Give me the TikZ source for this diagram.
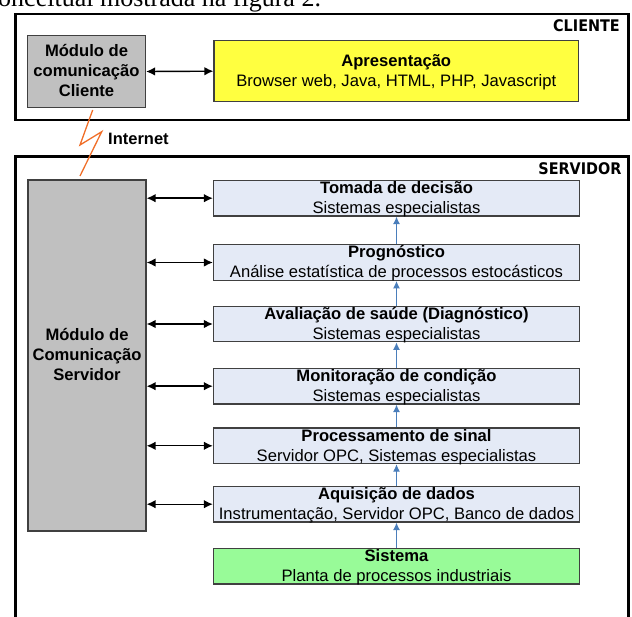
\documentclass[tikz,border=0pt]{standalone}
\usepackage{fontspec}
\usepackage{graphicx}
\setmainfont{Liberation Sans}
\newfontfamily\serifpage{Liberation Serif}
\newfontfamily\labfont{DejaVu Sans}
\usetikzlibrary{arrows.meta}
\definecolor{modgray}{RGB}{192,192,192}
\definecolor{layerblue}{RGB}{228,234,246}
\definecolor{apyellow}{RGB}{255,255,64}
\definecolor{sisgreen}{RGB}{152,251,152}
\definecolor{flowblue}{RGB}{74,126,187}
\definecolor{netorange}{RGB}{240,110,40}
\definecolor{edgegray}{RGB}{64,64,64}
\begin{document}
\begin{tikzpicture}[x=1pt,y=-1pt,
  outerbox/.style={draw=black,line width=2.5pt},
  box/.style={draw=edgegray,line width=1.2pt,inner sep=0pt,rectangle},
  module/.style={box,fill=modgray,minimum width=118pt},
  layer/.style={box,fill=layerblue,minimum width=366pt,minimum height=35.5pt},
  txt/.style={anchor=base,inner sep=0pt,font=\fontsize{16.6}{20}\selectfont},
  ttl/.style={anchor=base,inner sep=0pt,font=\fontsize{16.6}{20}\selectfont\bfseries},
  biarrow/.style={{Latex[length=9pt,width=8.5pt]}-{Latex[length=9pt,width=8.5pt]},line width=1.4pt,black},
  uparrow/.style={-{Latex[length=7.5pt,width=7pt]},line width=1.3pt,flowblue},
  sidelabel/.style={anchor=base east,inner sep=0pt,font=\labfont\bfseries\fontsize{16}{19}\selectfont}
]
\useasboundingbox (0,0) rectangle (632,617);
\clip (0,0) rectangle (632,617);

% cut-off page text
\node[anchor=base west,inner sep=0pt,font=\serifpage\fontsize{26}{30}\selectfont] (pagetext) at (-13.5,6.5) {conceitual mostrada na figura 2.};

% outer frames
\draw[outerbox] (15.5,13.8) rectangle (628.7,120);
\draw[outerbox] (15.5,156.5) rectangle (628.7,650);
\node[sidelabel] (clabel) at (620,31.7) {\scalebox{0.9}[1]{CLIENTE}};
\node[sidelabel] (slabel) at (621.7,175) {\scalebox{0.9}[1]{SERVIDOR}};

% client side
\node[module,minimum height=71.6pt] (modc) at (86.5,71.5) {};
\node[ttl] (modc1) at (86.5,56.7) {Módulo de};
\node[ttl] (modc2) at (86.5,77) {comunicação};
\node[ttl] (modc3) at (86.5,96.7) {Cliente};

\node[box,fill=apyellow,minimum width=364.5pt,minimum height=61pt] (apres) at (396.25,71.2) {};
\node[ttl] (apres1) at (396.25,67) {Apresentação};
\node[txt] (apres2) at (396.25,87) {Browser web, Java, HTML, PHP, Javascript};
\draw[biarrow] (modc.east) -- (apres.west);

% internet link
\coordinate (l0) at (92.7,110);
\coordinate (l1) at (80,145);
\coordinate (l2) at (101.7,131.7);
\coordinate (l3) at (80,176);
\draw[netorange,line width=1.3pt] (l0) -- (l1) -- (l2) -- (l3);
\node[anchor=base west,inner sep=0pt,font=\bfseries\fontsize{16.5}{20}\selectfont] (inet) at (108,145) {Internet};

% server side
\node[module,minimum height=351pt] (mods) at (87,355.5) {};
\node[ttl] (mods1) at (87,341) {Módulo de};
\node[ttl] (mods2) at (87,361) {Comunicação};
\node[ttl] (mods3) at (87,381) {Servidor};

\node[layer] (tom) at (396.5,198.2) {};
\node[ttl] (tom1) at (396.5,193.7) {Tomada de decisão};
\node[txt] (tom2) at (396.5,213.7) {Sistemas especialistas};

\node[layer] (prog) at (396.5,262.5) {};
\node[ttl] (prog1) at (396.5,258) {Prognóstico};
\node[txt] (prog2) at (396.5,278) {Análise estatística de processos estocásticos};

\node[layer] (aval) at (396.5,324) {};
\node[ttl] (aval1) at (396.5,319.5) {Avaliação de saúde (Diagnóstico)};
\node[txt] (aval2) at (396.5,339.5) {Sistemas especialistas};

\node[layer] (mon) at (396.5,386.2) {};
\node[ttl] (mon1) at (396.5,381.7) {Monitoração de condição};
\node[txt] (mon2) at (396.5,401.7) {Sistemas especialistas};

\node[layer] (proc) at (396.5,445.8) {};
\node[ttl] (proc1) at (396.5,441.3) {Processamento de sinal};
\node[txt] (proc2) at (396.5,461.3) {Servidor OPC, Sistemas especialistas};

\node[layer] (aq) at (396.5,504.2) {};
\node[ttl] (aq1) at (396.5,499.7) {Aquisição de dados};
\node[txt] (aq2) at (396.5,519.7) {Instrumentação, Servidor OPC, Banco de dados};

\node[layer,fill=sisgreen] (sis) at (396.5,566.3) {};
\node[ttl] (sis1) at (396.5,561.8) {Sistema};
\node[txt] (sis2) at (396.5,581.8) {Planta de processos industriais};

\foreach \b in {tom,prog,aval,mon,proc,aq}
  \draw[biarrow] (mods.east |- \b.west) -- (\b.west);

\draw[uparrow] (prog.north) -- (tom.south);
\draw[uparrow] (aval.north) -- (prog.south);
\draw[uparrow] (mon.north) -- (aval.south);
\draw[uparrow] (proc.north) -- (mon.south);
\draw[uparrow] (aq.north) -- (proc.south);
\draw[uparrow] (sis.north) -- (aq.south);
\end{tikzpicture}
\end{document}
